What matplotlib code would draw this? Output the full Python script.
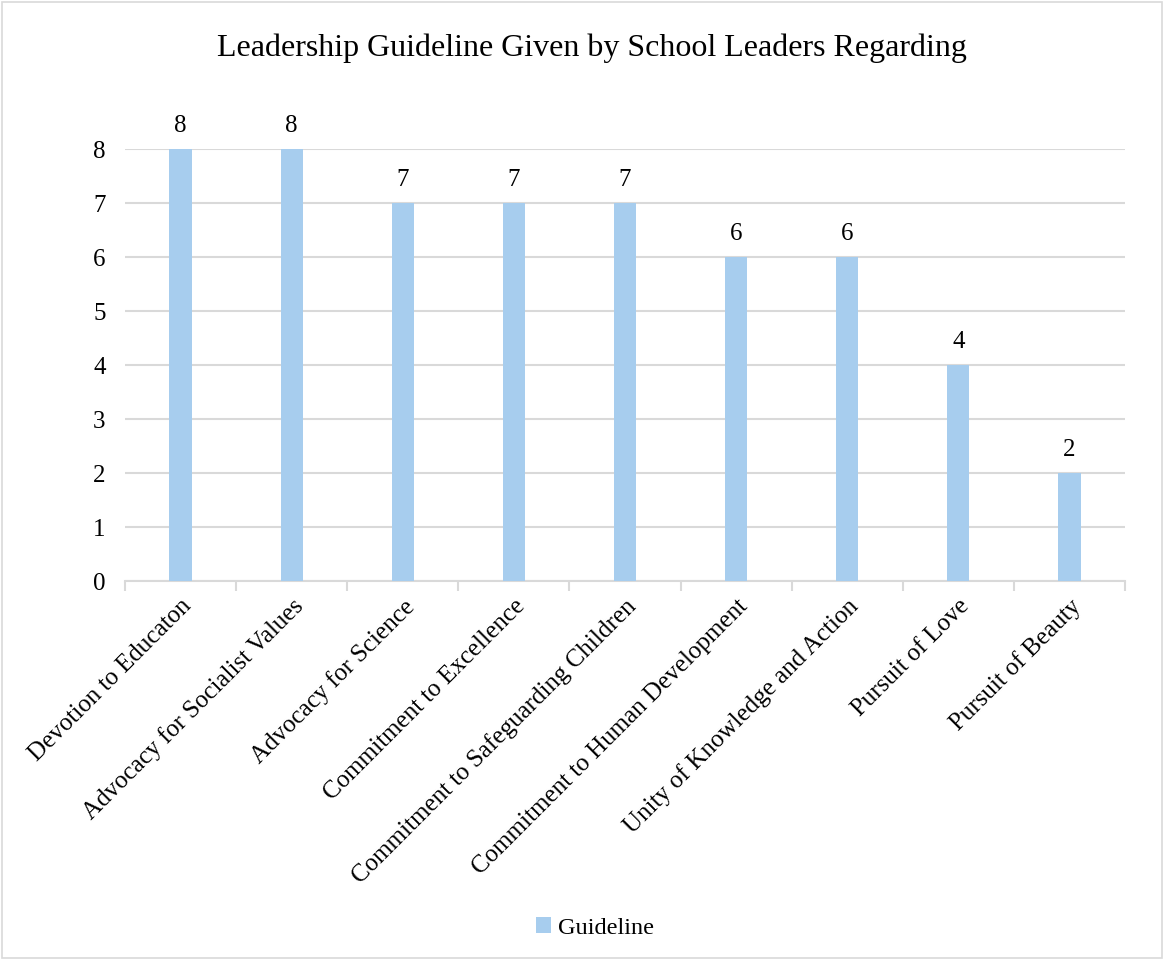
import numpy as np
import matplotlib.pyplot as plt
from matplotlib.patches import Rectangle

categories = [
    "Devotion to Educaton",
    "Advocacy for Socialist Values",
    "Advocacy for Science",
    "Commitment to Excellence",
    "Commitment to Safeguarding Children",
    "Commitment to Human Development",
    "Unity of Knowledge and Action",
    "Pursuit of Love",
    "Pursuit of Beauty",
]
guideline = [8, 8, 7, 7, 7, 6, 6, 4, 2]
yticks = [0, 1, 2, 3, 4, 5, 6, 7, 8]

plt.rcParams['font.family'] = ['Liberation Serif', 'DejaVu Serif']

fig = plt.figure(figsize=(11.64, 9.6), dpi=100)
ax = fig.add_axes([125 / 1164, 1 - 581 / 960, 1000 / 1164, 432 / 960])

x = np.arange(len(categories))
bars = ax.bar(x, guideline, width=0.2, color="#A7CDEE", label="Guideline", zorder=3)
for b, v in zip(bars, guideline):
    ax.text(b.get_x() + b.get_width() / 2, v + 0.22, str(v), ha="center", va="bottom",
            fontsize=18, clip_on=False)

ax.set_xlim(-0.5, len(categories) - 0.5)
ax.set_ylim(0, 8)
ax.set_yticks(yticks)
ax.tick_params(axis="y", length=0, labelsize=18, pad=14)
ax.yaxis.grid(True, color="#D9D9D9", linewidth=1.5, zorder=0)

# ticks sit between categories, labels centred on the bars
ax.set_xticks(np.arange(len(categories) + 1) - 0.5)
ax.set_xticklabels([])
ax.tick_params(axis="x", length=7, width=1.5, color="#D9D9D9", direction="out")
ax.set_xticks(x, minor=True)
ax.set_xticklabels(categories, minor=True, rotation=45, ha="right",
                   rotation_mode="anchor", fontsize=18)
ax.tick_params(axis="x", which="minor", length=0, pad=10)

for s in ["top", "right", "left"]:
    ax.spines[s].set_visible(False)
ax.spines["bottom"].set_color("#D9D9D9")
ax.spines["bottom"].set_linewidth(1.5)

fig.suptitle("Leadership Guideline Given by School Leaders Regarding",
             x=592 / 1164, y=1 - 48 / 960, va="center", fontsize=23)

fig.legend(loc="center", bbox_to_anchor=(595 / 1164, 1 - 928 / 960), frameon=False,
           fontsize=17.5, handlelength=0.6, handleheight=0.6, handletextpad=0.3)

fig.patches.append(Rectangle((0.002, 0.002), 0.996, 0.996, transform=fig.transFigure,
                             fill=False, edgecolor="#D9D9D9", linewidth=1.2))

fig.savefig("out.png", dpi=100)
